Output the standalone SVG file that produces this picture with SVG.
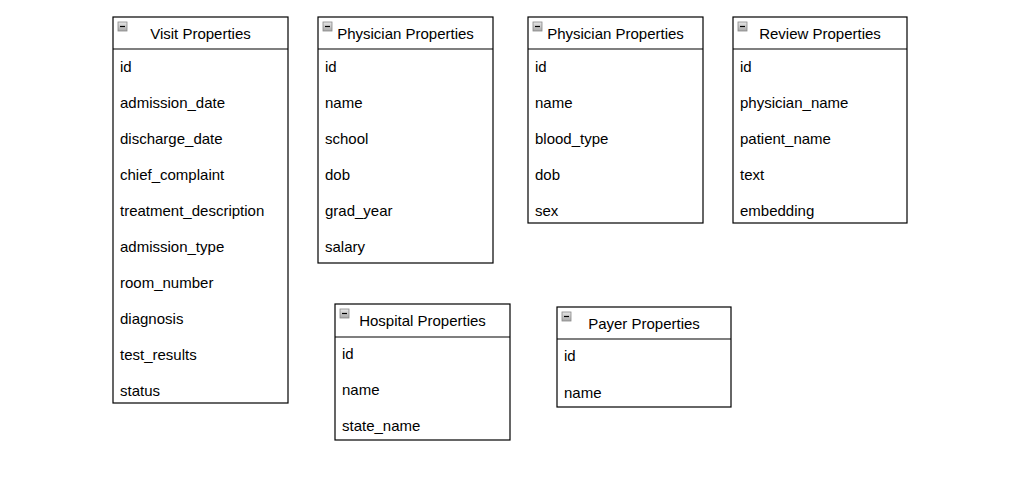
<svg xmlns="http://www.w3.org/2000/svg" width="1033" height="501" viewBox="0 0 1033 501">
<style>
.box{fill:#fff;stroke:#000;stroke-width:1.2}
.sep{stroke:#000;stroke-width:1.2}
.t{font-family:"Liberation Sans",Arial,sans-serif;font-size:15px;fill:#000}
.h{text-anchor:middle}
</style>
<defs>
<linearGradient id="ig" x1="0" y1="0" x2="0" y2="1">
<stop offset="0" stop-color="#e8e8e8"/><stop offset="1" stop-color="#a8a8a8"/>
</linearGradient>
<g id="icon">
<rect x="0" y="0" width="9" height="9" fill="url(#ig)" stroke="#888" stroke-width="0.8"/>
<line x1="2" y1="4.5" x2="7" y2="4.5" stroke="#000" stroke-width="1.2"/>
</g>
</defs>
<rect width="1033" height="501" fill="#fff"/>
<g id="visit">
<rect class="box" x="113" y="17" width="175" height="386"/>
<line class="sep" x1="113" y1="49" x2="288" y2="49"/>
<use href="#icon" x="118" y="22"/>
<text class="t h" x="200.5" y="39">Visit Properties</text>
<text class="t" x="120" y="72">id</text>
<text class="t" x="120" y="108">admission_date</text>
<text class="t" x="120" y="144">discharge_date</text>
<text class="t" x="120" y="180">chief_complaint</text>
<text class="t" x="120" y="216">treatment_description</text>
<text class="t" x="120" y="252">admission_type</text>
<text class="t" x="120" y="288">room_number</text>
<text class="t" x="120" y="324">diagnosis</text>
<text class="t" x="120" y="360">test_results</text>
<text class="t" x="120" y="396">status</text>
</g>
<g id="physician1">
<rect class="box" x="318" y="17" width="175" height="246"/>
<line class="sep" x1="318" y1="49" x2="493" y2="49"/>
<use href="#icon" x="323" y="22"/>
<text class="t h" x="405.5" y="39">Physician Properties</text>
<text class="t" x="325" y="72">id</text>
<text class="t" x="325" y="108">name</text>
<text class="t" x="325" y="144">school</text>
<text class="t" x="325" y="180">dob</text>
<text class="t" x="325" y="216">grad_year</text>
<text class="t" x="325" y="252">salary</text>
</g>
<g id="physician2">
<rect class="box" x="528" y="17" width="175" height="206"/>
<line class="sep" x1="528" y1="49" x2="703" y2="49"/>
<use href="#icon" x="533" y="22"/>
<text class="t h" x="615.5" y="39">Physician Properties</text>
<text class="t" x="535" y="72">id</text>
<text class="t" x="535" y="108">name</text>
<text class="t" x="535" y="144">blood_type</text>
<text class="t" x="535" y="180">dob</text>
<text class="t" x="535" y="216">sex</text>
</g>
<g id="review">
<rect class="box" x="733" y="17" width="174" height="206"/>
<line class="sep" x1="733" y1="49" x2="907" y2="49"/>
<use href="#icon" x="738" y="22"/>
<text class="t h" x="820" y="39">Review Properties</text>
<text class="t" x="740" y="72">id</text>
<text class="t" x="740" y="108">physician_name</text>
<text class="t" x="740" y="144">patient_name</text>
<text class="t" x="740" y="180">text</text>
<text class="t" x="740" y="216">embedding</text>
</g>
<g id="hospital">
<rect class="box" x="335" y="304" width="175" height="136"/>
<line class="sep" x1="335" y1="337" x2="510" y2="337"/>
<use href="#icon" x="340" y="309"/>
<text class="t h" x="422.5" y="326">Hospital Properties</text>
<text class="t" x="342" y="359">id</text>
<text class="t" x="342" y="395">name</text>
<text class="t" x="342" y="431">state_name</text>
</g>
<g id="payer">
<rect class="box" x="557" y="307" width="174" height="100"/>
<line class="sep" x1="557" y1="339" x2="731" y2="339"/>
<use href="#icon" x="562" y="312"/>
<text class="t h" x="644" y="329">Payer Properties</text>
<text class="t" x="564" y="361">id</text>
<text class="t" x="564" y="398">name</text>
</g>
<g id="connectors"></g>
</svg>
